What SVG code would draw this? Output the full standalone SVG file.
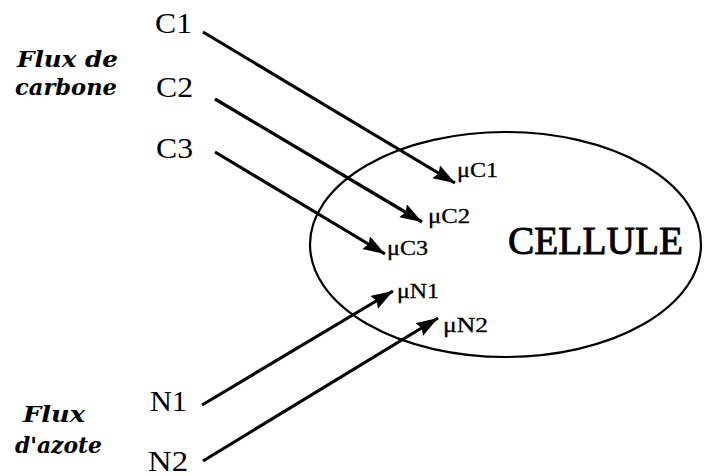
<svg xmlns="http://www.w3.org/2000/svg" width="706" height="476" viewBox="0 0 706 476">
<style>
.lbl{font-family:"Liberation Serif","Times New Roman",serif;fill:#000}
.src{font-size:29px}
.mu{font-size:20px;stroke:#000;stroke-width:0.3}
.grp{font-family:"DejaVu Serif","Liberation Serif",serif;font-size:23px;font-weight:bold;font-style:italic}
.conn{stroke:#000;stroke-width:3.2;fill:none;marker-end:url(#ah)}
</style>
<defs>
<marker id="ah" markerUnits="userSpaceOnUse" markerWidth="24" markerHeight="16" refX="22" refY="7.5" orient="auto">
<path d="M0,0 L22,7.5 L0,15 L3,7.5 z" fill="#000"/>
</marker>
</defs>
<rect width="706" height="476" fill="#fff"/>
<g id="cellule">
<ellipse cx="505.5" cy="244.5" rx="195.5" ry="112.5" fill="none" stroke="#000" stroke-width="2.2"/>
<text class="lbl" x="508" y="254" font-size="40" stroke="#000" stroke-width="0.9" textLength="175" lengthAdjust="spacingAndGlyphs">CELLULE</text>
</g>
<g id="flux-carbone"><text class="lbl grp" x="17" y="67" textLength="101" lengthAdjust="spacingAndGlyphs">Flux de</text><text class="lbl grp" x="15" y="95" textLength="102" lengthAdjust="spacingAndGlyphs">carbone</text></g>
<g id="flux-azote"><text class="lbl grp" x="23" y="422" textLength="62" lengthAdjust="spacingAndGlyphs">Flux</text><text class="lbl grp" x="15" y="453" textLength="87" lengthAdjust="spacingAndGlyphs">d'azote</text></g>
<g id="C1"><text class="lbl src" x="155" y="33" textLength="37" lengthAdjust="spacingAndGlyphs">C1</text></g>
<g id="C2"><text class="lbl src" x="156" y="97" textLength="37" lengthAdjust="spacingAndGlyphs">C2</text></g>
<g id="C3"><text class="lbl src" x="156" y="158" textLength="37" lengthAdjust="spacingAndGlyphs">C3</text></g>
<g id="N1"><text class="lbl src" x="150" y="411" textLength="37" lengthAdjust="spacingAndGlyphs">N1</text></g>
<g id="N2"><text class="lbl src" x="148" y="471" textLength="40" lengthAdjust="spacingAndGlyphs">N2</text></g>
<g id="muC1"><text class="lbl mu" x="457" y="177" textLength="41" lengthAdjust="spacingAndGlyphs">μC1</text></g>
<g id="muC2"><text class="lbl mu" x="428" y="223" textLength="42" lengthAdjust="spacingAndGlyphs">μC2</text></g>
<g id="muC3"><text class="lbl mu" x="387" y="255" textLength="41" lengthAdjust="spacingAndGlyphs">μC3</text></g>
<g id="muN1"><text class="lbl mu" x="397" y="298" textLength="42" lengthAdjust="spacingAndGlyphs">μN1</text></g>
<g id="muN2"><text class="lbl mu" x="443" y="332" textLength="45" lengthAdjust="spacingAndGlyphs">μN2</text></g>
<g id="connectors">
<line class="conn" x1="203" y1="32" x2="455" y2="183"/>
<line class="conn" x1="215" y1="99" x2="422" y2="222"/>
<line class="conn" x1="215" y1="152" x2="385" y2="254"/>
<line class="conn" x1="202" y1="405" x2="393" y2="291"/>
<line class="conn" x1="203" y1="461" x2="438" y2="318"/>
</g>
</svg>
